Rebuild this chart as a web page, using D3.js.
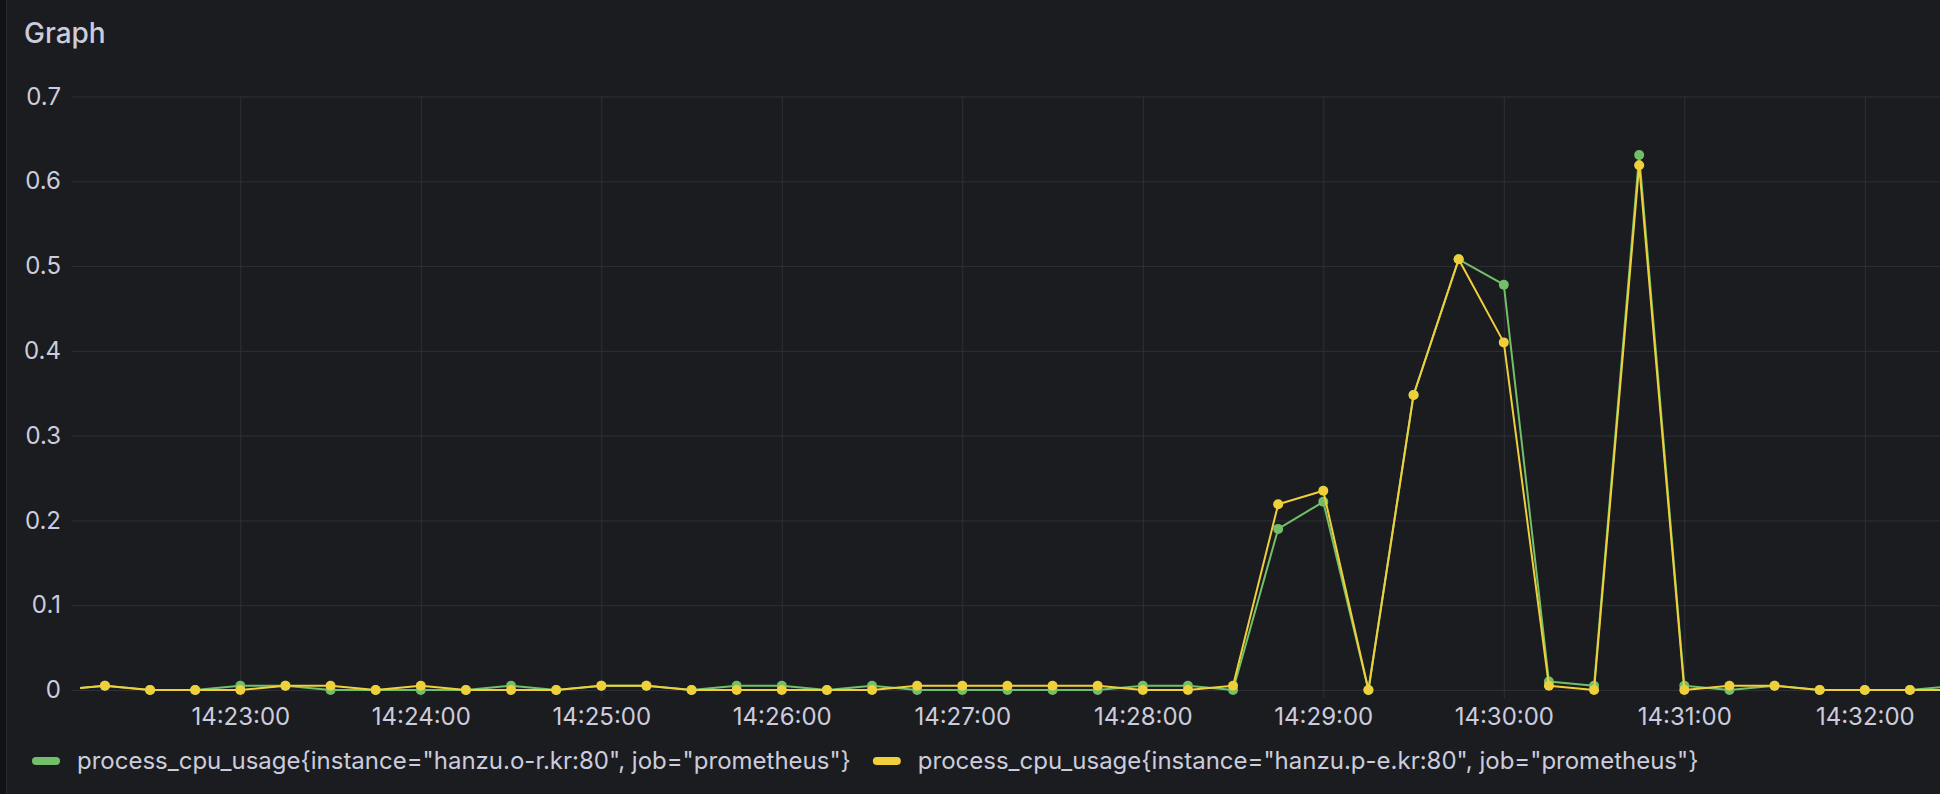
<!DOCTYPE html>
<html>
<head>
<meta charset="utf-8">
<script src="https://cdn.jsdelivr.net/npm/d3@7"></script>
<style>
  html, body { margin: 0; padding: 0; background: #111217; }
  svg { display: block; }
  text { font-family: Inter, "Noto Sans", sans-serif; }
</style>
</head>
<body>
<svg id="chart" width="1940" height="794"></svg>
<script>
// ---- data ----
const times = [
  "14:22:00","14:22:15","14:22:30","14:22:45",
  "14:23:00","14:23:15","14:23:30","14:23:45",
  "14:24:00","14:24:15","14:24:30","14:24:45",
  "14:25:00","14:25:15","14:25:30","14:25:45",
  "14:26:00","14:26:15","14:26:30","14:26:45",
  "14:27:00","14:27:15","14:27:30","14:27:45",
  "14:28:00","14:28:15","14:28:30","14:28:45",
  "14:29:00","14:29:15","14:29:30","14:29:45",
  "14:30:00","14:30:15","14:30:30","14:30:45",
  "14:31:00","14:31:15","14:31:30","14:31:45",
  "14:32:00","14:32:15","14:32:30"
];
const seriesOR = [
  0, 0.005, 0, 0,
  0.005, 0.005, 0, 0,
  0, 0, 0.005, 0,
  0.005, 0.005, 0, 0.005,
  0.005, 0, 0.005, 0,
  0, 0, 0, 0,
  0.005, 0.005, 0, 0.19,
  0.222, 0, 0.348, 0.508,
  0.478, 0.01, 0.005, 0.631,
  0.005, 0, 0.005, 0,
  0, 0, 0.005
];
const seriesPE = [
  0, 0.005, 0, 0,
  0, 0.005, 0.005, 0,
  0.005, 0, 0, 0,
  0.005, 0.005, 0, 0,
  0, 0, 0, 0.005,
  0.005, 0.005, 0.005, 0.005,
  0, 0, 0.005, 0.219,
  0.235, 0, 0.348, 0.508,
  0.41, 0.005, 0, 0.619,
  0, 0.005, 0.005, 0,
  0, 0, 0
];
const seriesNames = [
  'process_cpu_usage{instance="hanzu.o-r.kr:80", job="prometheus"}',
  'process_cpu_usage{instance="hanzu.p-e.kr:80", job="prometheus"}'
];
const seriesColors = ["#73BF69", "#F0D03A"];
const xTickLabels = ["14:23:00","14:24:00","14:25:00","14:26:00","14:27:00","14:28:00","14:29:00","14:30:00","14:31:00","14:32:00"];
const yTicks = [0, 0.1, 0.2, 0.3, 0.4, 0.5, 0.6, 0.7];
const yTickLabels = ["0", "0.1", "0.2", "0.3", "0.4", "0.5", "0.6", "0.7"];
const title = "Graph";

// ---- layout ----
const W = 1940, H = 794;
const plot = { left: 80, right: 1940, top: 96.5, bottom: 690 };
const textColor = "#ccccdc";
const gridColor = "#2f3035";

const parseT = s => new Date("2024-01-01T" + s + "Z");
const xs = times.map(parseT);

const svg = d3.select("#chart");

// panel background
svg.append("rect").attr("x", 0).attr("y", 0).attr("width", W).attr("height", H).attr("fill", "#111217");
svg.append("rect")
  .attr("x", 6.5).attr("y", -10).attr("width", W).attr("height", H + 20)
  .attr("rx", 4)
  .attr("fill", "#1b1c20")
  .attr("stroke", "#2a2b30").attr("stroke-width", 1);

// title
svg.append("text")
  .attr("x", 24).attr("y", 43)
  .attr("fill", textColor)
  .attr("font-size", 28).attr("font-weight", 500)
  .text(title);

// scales
const x = d3.scaleUtc()
  .domain([parseT("14:23:00"), parseT("14:32:00")])
  .range([240.3, 1864.8]);
const y = d3.scaleLinear().domain([0, 0.7]).range([plot.bottom, plot.top]);

// grid (horizontal)
const gy = svg.append("g").attr("transform", `translate(${plot.left},0)`)
  .call(d3.axisLeft(y).tickValues(yTicks).tickSize(-(plot.right - plot.left)).tickFormat(""));
gy.select(".domain").remove();
gy.selectAll("line").attr("stroke", gridColor).attr("stroke-width", 1);

// grid (vertical)
const xTickDates = xTickLabels.map(parseT);
const gx = svg.append("g").attr("transform", `translate(0,${plot.bottom})`)
  .call(d3.axisBottom(x).tickValues(xTickDates).tickSize(-(plot.bottom - plot.top)).tickFormat(""));
gx.select(".domain").remove();
gx.selectAll("line").attr("stroke", gridColor).attr("stroke-width", 1);

// y axis labels
const ay = svg.append("g").attr("transform", `translate(${plot.left},0)`)
  .call(d3.axisLeft(y).tickValues(yTicks).tickSize(8).tickPadding(11)
    .tickFormat((d, i) => yTickLabels[i]));
ay.select(".domain").remove();
ay.selectAll("line").attr("stroke", gridColor);
ay.selectAll("text").attr("fill", textColor).attr("font-size", 24)
  .attr("font-family", "Inter, 'Noto Sans', sans-serif");

// x axis labels
const ax = svg.append("g").attr("transform", `translate(0,${plot.bottom})`)
  .call(d3.axisBottom(x).tickValues(xTickDates).tickSize(8).tickPadding(10)
    .tickFormat((d, i) => xTickLabels[i]));
ax.select(".domain").remove();
ax.selectAll("line").attr("stroke", gridColor);
ax.selectAll("text").attr("fill", textColor).attr("font-size", 24)
  .attr("font-family", "Inter, 'Noto Sans', sans-serif");

// clip
svg.append("clipPath").attr("id", "plotclip")
  .append("rect").attr("x", plot.left).attr("y", 0)
  .attr("width", plot.right - plot.left).attr("height", H);

const series = [seriesOR, seriesPE];
const lineGen = d3.line().x(d => x(d.t)).y(d => y(d.v));
const gs = svg.append("g").attr("clip-path", "url(#plotclip)");
series.forEach((vals, si) => {
  const pts = vals.map((v, i) => ({ t: xs[i], v }));
  const g = gs.append("g");
  g.append("path").datum(pts)
    .attr("d", lineGen)
    .attr("fill", "none")
    .attr("stroke", seriesColors[si])
    .attr("stroke-width", 2)
    .attr("stroke-linejoin", "round");
  g.selectAll("circle").data(pts).join("circle")
    .attr("cx", d => x(d.t)).attr("cy", d => y(d.v))
    .attr("r", 5)
    .attr("fill", seriesColors[si]);
});

// legend
const legend = svg.append("g");
let lx = 32;
seriesNames.forEach((name, i) => {
  legend.append("rect")
    .attr("x", lx).attr("y", 757).attr("width", 28).attr("height", 8)
    .attr("rx", 4).attr("fill", seriesColors[i]);
  const t = legend.append("text")
    .attr("x", lx + 45).attr("y", 769)
    .attr("fill", textColor).attr("font-size", 24)
    .text(name);
  lx = lx + 45 + t.node().getComputedTextLength() + 22;
});
</script>
</body>
</html>
